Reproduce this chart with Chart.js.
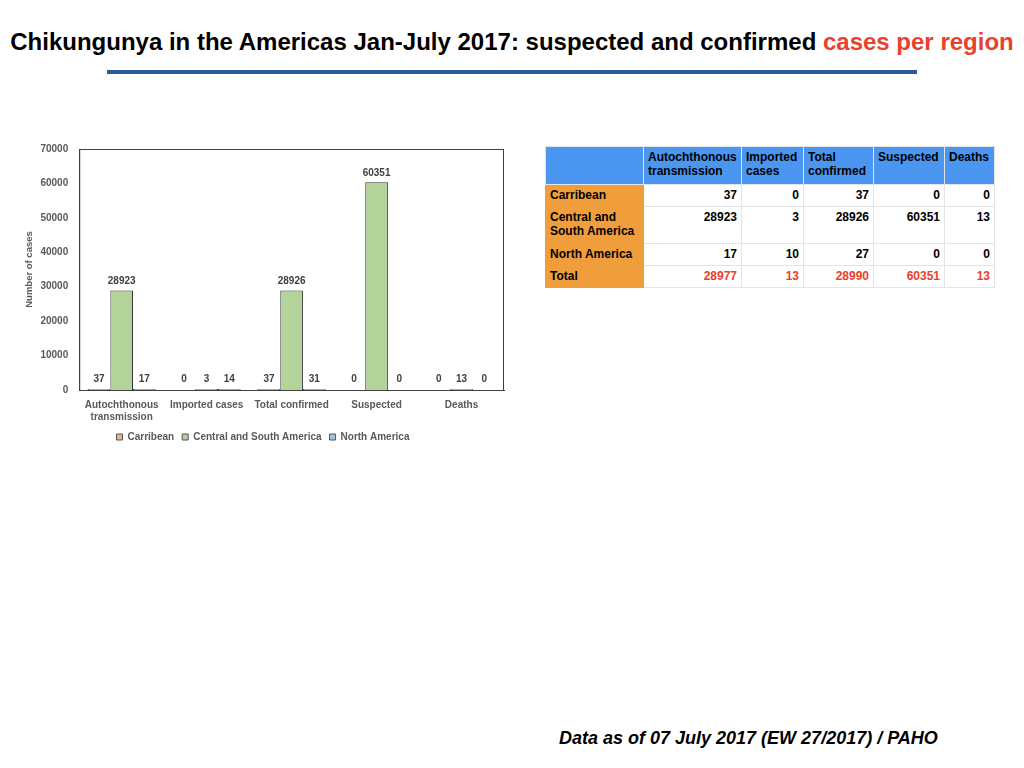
<!DOCTYPE html>
<html>
<head>
<meta charset="utf-8">
<script src="https://cdn.jsdelivr.net/npm/chart.js@4"></script>
<style>
  body { margin: 0; width: 1024px; height: 768px; background: #fff; position: relative; overflow: hidden; font-family: "Liberation Sans", Arial, sans-serif; }
  #title { position: absolute; left: 0; top: 28px; width: 1024px; text-align: center; font-weight: bold; font-size: 24px; color: #000; white-space: nowrap; }
  #title span { color: #e8412c; }
  #rule { position: absolute; left: 107px; top: 70px; width: 810px; height: 4px; background: #2c5b9a; }
  #chartBox { position: absolute; left: 20px; top: 140px; width: 490px; height: 320px; }
  #tbl { position: absolute; left: 545px; top: 146px; border-collapse: collapse; font-size: 12px; font-weight: bold; }
  #tbl td, #tbl th { border: 1px solid #e4e4e4; padding: 3px 4px 3px 4px; vertical-align: top; line-height: 14px; }
  #tbl th { background: #4a96f0; text-align: left; font-weight: bold; color: #000; }
  #tbl td.lab { background: #f09e3c; border-color: #f09e3c; }
  #tbl td.num { text-align: right; }
  #tbl tr.tot td.num { color: #e8412c; }
  #foot { position: absolute; left: 559px; top: 728px; font-size: 18px; font-weight: bold; font-style: italic; color: #000; }
</style>
</head>
<body>
<div id="title">Chikungunya in the Americas Jan-July 2017: suspected and confirmed <span>cases per region</span></div>
<div id="rule"></div>
<div id="chartBox"><canvas id="casesChart"></canvas></div>
<table id="tbl"></table>
<div id="foot">Data as of 07 July 2017 (EW 27/2017) / PAHO</div>
<script>
// chart values (as drawn in the chart)
const categories = [['Autochthonous', 'transmission'], 'Imported cases', 'Total confirmed', 'Suspected', 'Deaths'];
const carribean = [37, 0, 37, 0, 0];
const centralSouth = [28923, 3, 28926, 60351, 13];
const northAmerica = [17, 14, 31, 0, 0];

// table values
const tableHeaders = ['', ['Autochthonous', 'transmission'], ['Imported', 'cases'], ['Total', 'confirmed'], 'Suspected', 'Deaths'];
const tableRows = [['Carribean'], ['Central and', 'South America'], ['North America'], ['Total']];
const tableCarribean = [37, 0, 37, 0, 0];
const tableCentral = [28923, 3, 28926, 60351, 13];
const tableNorth = [17, 10, 27, 0, 0];
const tableTotal = [28977, 13, 28990, 60351, 13];

// build the table
const tbl = document.getElementById('tbl');
const colWidths = [89, 89, 53, 61, 62, 41];
let html = '<tr>';
tableHeaders.forEach(function(h, i) {
    const txt = Array.isArray(h) ? h.join('<br>') : (h || '&nbsp;');
    html += '<th style="width:' + colWidths[i] + 'px;height:31px">' + txt + '</th>';
});
html += '</tr>';
const tableData = [tableCarribean, tableCentral, tableNorth, tableTotal];
const rowHeights = [15, 30, 15, 15];
tableRows.forEach(function(r, i) {
    html += '<tr' + (i === 3 ? ' class="tot"' : '') + '><td class="lab" style="height:' + rowHeights[i] + 'px">' + r.join('<br>') + '</td>';
    tableData[i].forEach(function(v) { html += '<td class="num">' + v + '</td>'; });
    html += '</tr>';
});
tbl.innerHTML = html;

// draw value labels above the bars
const barLabels = {
    id: 'barLabels',
    afterDatasetsDraw(chart) {
        const c = chart.ctx;
        const base = chart.scales.y.getPixelForValue(0);
        c.save();
        c.font = 'bold 10px "Liberation Sans", Arial, sans-serif';
        c.fillStyle = '#404040';
        c.textAlign = 'center';
        c.textBaseline = 'bottom';
        chart.data.datasets.forEach(function(ds, di) {
            chart.getDatasetMeta(di).data.forEach(function(bar, i) {
                const top = Math.min(bar.y, base - 2);
                c.fillText(ds.data[i], bar.x, top - 4);
            });
        });
        c.restore();
    }
};

// full frame around the plot area
const plotFrame = {
    id: 'plotFrame',
    afterDraw(chart) {
        const a = chart.chartArea;
        const c = chart.ctx;
        c.save();
        c.strokeStyle = '#404040';
        c.lineWidth = 1;
        c.strokeRect(a.left + 0.5, a.top + 0.5, a.right - a.left - 1, a.bottom - a.top);
        c.restore();
    }
};

// zero values get no visible bar
function zeroHidden(color) {
    return function(context) {
        return context.raw === 0 ? 'rgba(0,0,0,0)' : color;
    };
}

const ctx = document.getElementById('casesChart').getContext('2d');
const casesChart = new Chart(ctx, {
    type: 'bar',
    data: {
        labels: categories,
        datasets: [{
            label: 'Carribean',
            data: carribean,
            backgroundColor: zeroHidden('#f4b183'),
            borderColor: zeroHidden('#333333'),
            borderWidth: 1
        }, {
            label: 'Central and South America',
            data: centralSouth,
            backgroundColor: zeroHidden('#b3d39a'),
            borderColor: zeroHidden('#333333'),
            borderWidth: 1
        }, {
            label: 'North America',
            data: northAmerica,
            backgroundColor: zeroHidden('#9dc3e6'),
            borderColor: zeroHidden('#333333'),
            borderWidth: 1
        }]
    },
    options: {
        responsive: true,
        maintainAspectRatio: false,
        animation: false,
        datasets: {
            bar: {
                categoryPercentage: 0.8,
                barPercentage: 1.0,
                minBarLength: 1
            }
        },
        layout: {
            padding: { left: 2, right: 6, top: 4, bottom: 8 }
        },
        plugins: {
            legend: {
                position: 'bottom',
                labels: {
                    boxWidth: 6,
                    boxHeight: 6,
                    padding: 8,
                    color: '#595959',
                    font: { family: '"Liberation Sans", Arial, sans-serif', size: 10, weight: 'bold' },
                    generateLabels(chart) {
                        return chart.data.datasets.map(function(ds, i) {
                            const colors = ['#f4b183', '#b3d39a', '#9dc3e6'];
                            return {
                                text: ds.label,
                                fillStyle: colors[i],
                                strokeStyle: '#555555',
                                lineWidth: 1,
                                fontColor: '#595959',
                                datasetIndex: i
                            };
                        });
                    }
                }
            },
            tooltip: { enabled: false }
        },
        scales: {
            x: {
                grid: { display: false },
                border: { color: '#404040' },
                ticks: {
                    color: '#595959',
                    maxRotation: 0,
                    padding: 1,
                    font: { family: '"Liberation Sans", Arial, sans-serif', size: 10, weight: 'bold' }
                }
            },
            y: {
                min: 0,
                max: 70000,
                grid: { display: false },
                border: { color: '#404040' },
                ticks: {
                    stepSize: 10000,
                    color: '#595959',
                    callback: function(v) { return String(v); },
                    font: { family: '"Liberation Sans", Arial, sans-serif', size: 10, weight: 'bold' }
                },
                title: {
                    display: true,
                    text: 'Number of cases',
                    color: '#595959',
                    padding: 2,
                    font: { family: '"Liberation Sans", Arial, sans-serif', size: 9.5, weight: 'bold' }
                }
            }
        }
    },
    plugins: [barLabels, plotFrame]
});
</script>
</body>
</html>
